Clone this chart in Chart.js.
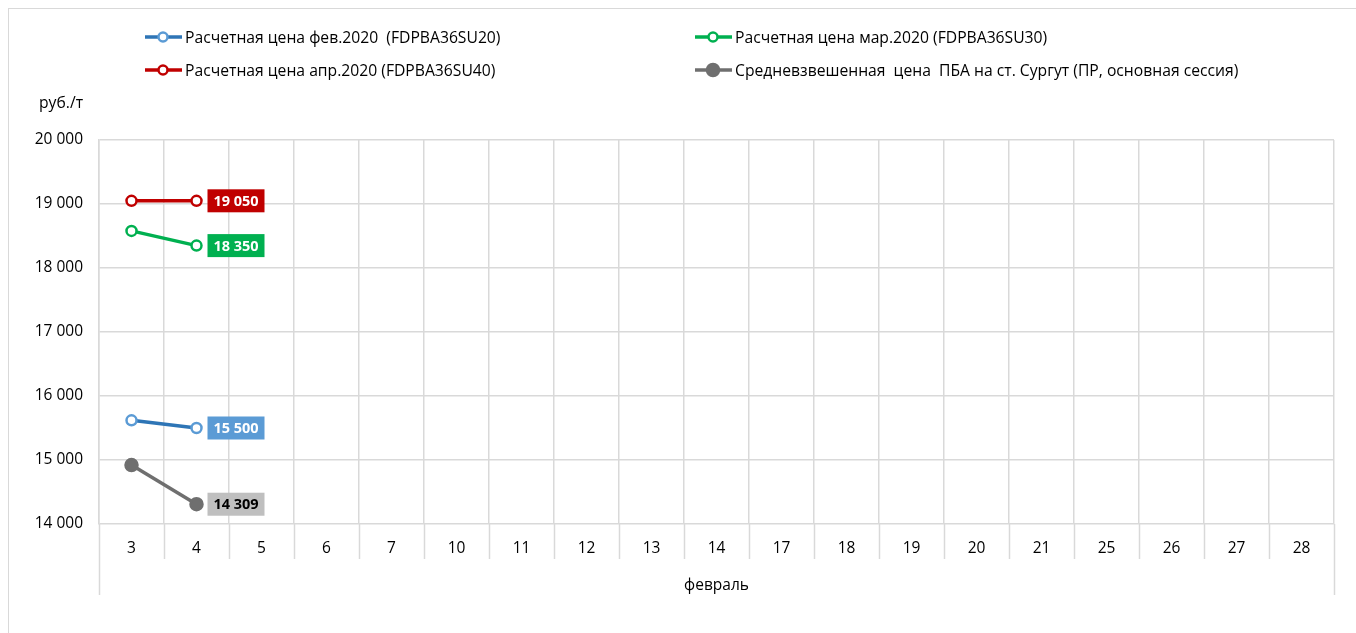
<!DOCTYPE html>
<html>
<head>
<meta charset="utf-8">
<script src="https://cdn.jsdelivr.net/npm/chart.js@4/dist/chart.umd.min.js"></script>
<style>
    html, body { margin: 0; padding: 0; background: #fff; }
    body { width: 1356px; height: 633px; position: relative; overflow: hidden; font-family: 'Open Sans', Roboto, sans-serif; }
    #frame { position: absolute; left: 8px; top: 8px; width: 1400px; height: 700px; border-left: 1px solid #d9d9d9; border-top: 1px solid #d9d9d9; }
    #chart-wrap { position: absolute; left: 0; top: 0; width: 1356px; height: 633px; }
    #unit { position: absolute; left: 39px; top: 92px; font-size: 15.7px; line-height: 20px; color: #000; }
    .legend-item { position: absolute; font-size: 15.7px; color: #000; white-space: pre; line-height: 20px; }
    .legend-item canvas { position: absolute; left: 0; top: 0; }
</style>
</head>
<body>
<div id="frame"></div>
<div id="chart-wrap"><canvas id="price-chart" width="1356" height="633"></canvas></div>
<div id="unit">руб./т</div>
<div id="legend"></div>
<script>
// days of February 2020 (trading days)
const days = ['3', '4', '5', '6', '7', '10', '11', '12', '13', '14', '17', '18', '19', '20', '21', '25', '26', '27', '28'];

const febPrice = [15620, 15500];
const marPrice = [18580, 18350];
const aprPrice = [19050, 19050];
const avgPrice = [14920, 14309];

const yTicks = [14000, 15000, 16000, 17000, 18000, 19000, 20000];

const seriesNames = [
    'Расчетная цена фев.2020  (FDPBA36SU20)',
    'Расчетная цена мар.2020 (FDPBA36SU30)',
    'Расчетная цена апр.2020 (FDPBA36SU40)',
    'Средневзвешенная  цена  ПБА на ст. Сургут (ПР, основная сессия)'
];

const FONT = "'Open Sans', Roboto, sans-serif";
const fmt = v => String(v).replace(/\B(?=(\d{3})+(?!\d))/g, ' ');

const datasets = [
    { label: seriesNames[0], data: febPrice, borderColor: '#2e75b6', pointBorderColor: '#5b9bd5', pointBackgroundColor: '#fff', boxColor: '#5b9bd5', textColor: '#fff' },
    { label: seriesNames[1], data: marPrice, borderColor: '#00b050', pointBorderColor: '#00b050', pointBackgroundColor: '#fff', boxColor: '#00b050', textColor: '#fff' },
    { label: seriesNames[2], data: aprPrice, borderColor: '#c00000', pointBorderColor: '#c00000', pointBackgroundColor: '#fff', boxColor: '#c00000', textColor: '#fff' },
    { label: seriesNames[3], data: avgPrice, borderColor: '#6f6f6f', pointBorderColor: '#6f6f6f', pointBackgroundColor: '#6f6f6f', boxColor: '#bfbfbf', textColor: '#000', filled: true }
].map(d => Object.assign({
    borderWidth: 3.5,
    pointRadius: d.filled ? 6 : 5,
    pointBorderWidth: 2.5,
    pointHoverRadius: 6,
    tension: 0,
    fill: false
}, d));

// value boxes to the right of the last point
const valueBoxes = {
    id: 'valueBoxes',
    afterDatasetsDraw(chart) {
        const ctx = chart.ctx;
        ctx.save();
        ctx.font = 'bold 14.5px ' + FONT;
        ctx.textBaseline = 'middle';
        chart.data.datasets.forEach((ds, i) => {
            const meta = chart.getDatasetMeta(i);
            const last = meta.data[ds.data.length - 1];
            if (!last) return;
            const text = fmt(ds.data[ds.data.length - 1]);
            const w = 57, h = 23;
            const x = last.x + 11, y = last.y - h / 2;
            ctx.fillStyle = ds.boxColor;
            ctx.fillRect(x, y, w, h);
            ctx.fillStyle = ds.textColor;
            ctx.textAlign = 'center';
            ctx.fillText(text, x + w / 2, last.y + 1);
        });
        ctx.restore();
    }
};

// separators under the category axis (Excel style multi-level axis)
const axisBox = {
    id: 'axisBox',
    afterDraw(chart) {
        const { ctx, chartArea } = chart;
        const n = chart.data.labels.length;
        const step = (chartArea.right - chartArea.left) / n;
        ctx.save();
        ctx.strokeStyle = '#d9d9d9';
        ctx.lineWidth = 1.5;
        for (let i = 0; i <= n; i++) {
            const x = Math.round(chartArea.left + i * step) + 0.5;
            const end = (i === 0 || i === n) ? 71 : 35;
            ctx.beginPath();
            ctx.moveTo(x, chartArea.bottom);
            ctx.lineTo(x, chartArea.bottom + end);
            ctx.stroke();
        }
        ctx.restore();
    }
};

const chart = new Chart(document.getElementById('price-chart'), {
    type: 'line',
    data: { labels: days, datasets: datasets },
    options: {
        responsive: false,
        animation: false,
        layout: { padding: { top: 140, right: 22, left: 0, bottom: 0 } },
        plugins: {
            legend: { display: false },
            tooltip: { enabled: false }
        },
        scales: {
            x: {
                offset: true,
                grid: { offset: true, color: '#d9d9d9', lineWidth: 1.5, drawTicks: false },
                border: { display: false },
                ticks: { color: '#000', font: { family: FONT, size: 15.5 }, padding: 15, maxRotation: 0, autoSkip: false },
                title: { display: true, text: 'февраль', color: '#000', font: { family: FONT, size: 15.5 }, padding: { top: 4, bottom: 38 } },
                afterFit(scale) { scale.height = 109; }
            },
            y: {
                min: 14000,
                max: 20000,
                afterBuildTicks(scale) { scale.ticks = yTicks.map(v => ({ value: v })); },
                grid: { color: '#d9d9d9', lineWidth: 1.5, drawTicks: false },
                border: { display: true, color: '#d9d9d9', width: 1.5 },
                ticks: { color: '#000', font: { family: FONT, size: 15.5 }, padding: 16, callback: v => fmt(v) },
                afterFit(scale) { scale.width = 99; }
            }
        }
    },
    plugins: [valueBoxes, axisBox]
});

// legend, two columns like the original
const legendPos = [[145, 27], [695, 27], [145, 60], [695, 60]];
const legendEl = document.getElementById('legend');
datasets.forEach((ds, i) => {
    const item = document.createElement('div');
    item.className = 'legend-item';
    item.style.left = legendPos[i][0] + 'px';
    item.style.top = legendPos[i][1] + 'px';
    item.style.paddingLeft = '40px';
    item.textContent = ds.label;
    const c = document.createElement('canvas');
    c.width = 38; c.height = 20;
    const g = c.getContext('2d');
    g.strokeStyle = ds.borderColor;
    g.lineWidth = 3.5;
    g.beginPath(); g.moveTo(0, 10); g.lineTo(37, 10); g.stroke();
    g.beginPath(); g.arc(18, 10, ds.filled ? 6 : 4.5, 0, Math.PI * 2);
    g.fillStyle = ds.pointBackgroundColor; g.fill();
    g.strokeStyle = ds.pointBorderColor; g.lineWidth = 2.5; g.stroke();
    item.appendChild(c);
    legendEl.appendChild(item);
});
</script>
</body>
</html>
